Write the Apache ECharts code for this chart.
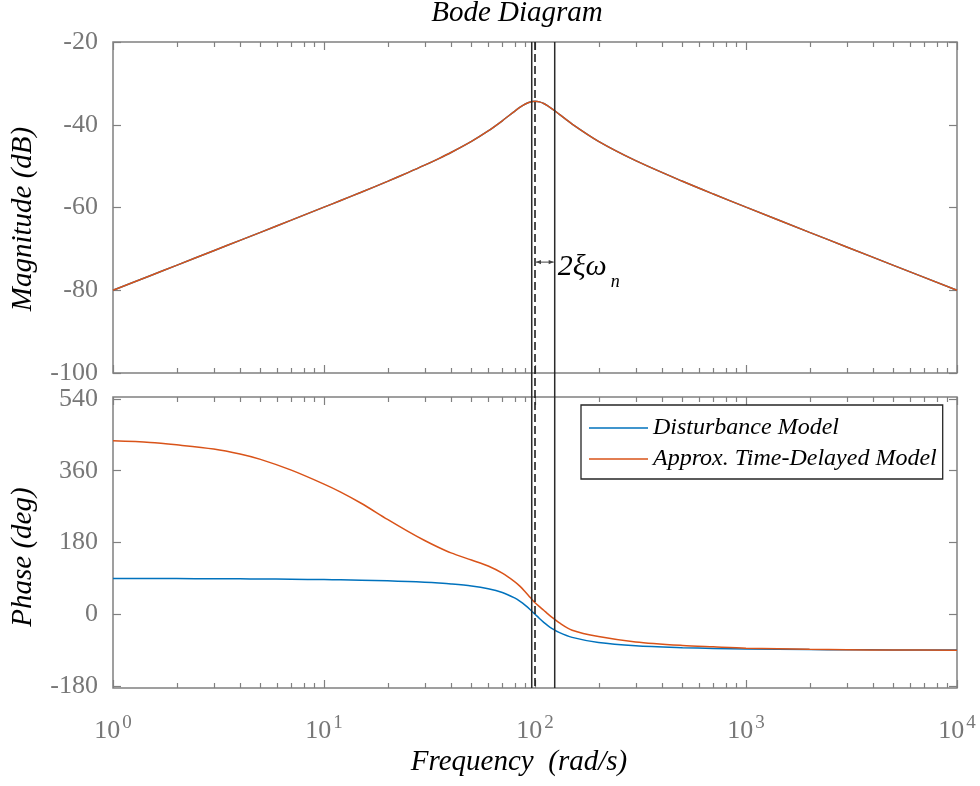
<!DOCTYPE html>
<html>
<head>
<meta charset="utf-8">
<script src="https://cdn.jsdelivr.net/npm/echarts@6/dist/echarts.min.js"></script>
<style>
  html, body { margin: 0; padding: 0; background: #fff; }
  #chart { width: 980px; height: 786px; }
</style>
</head>
<body>
<div id="chart"></div>
<script>
// Frequency samples (rad/s)
const freq = [1, 1.5, 2, 3, 4, 5, 7, 10, 12, 15, 20, 25, 30, 35, 40, 50, 60, 70, 80, 85, 90, 95, 100,
  105, 110, 115, 120, 130, 150, 200, 300, 500, 700, 1000, 2000, 3000, 5000, 10000];

// Magnitude (dB)
const magDisturbance = [-80.0, -76.48, -73.98, -70.45, -67.95, -66.0, -63.06, -59.92, -58.31, -56.31,
  -53.68, -51.56, -49.77, -48.17, -46.7, -44.01, -41.49, -39.04, -36.75, -35.76, -34.99, -34.49, -34.32,
  -34.47, -34.87, -35.43, -36.08, -37.42, -39.85, -44.02, -48.68, -53.67, -56.75,
  -59.92, -66.0, -69.54, -73.98, -80.0];
const magDelayed = [-80.0, -76.48, -73.98, -70.45, -67.95, -66.0, -63.06, -59.92, -58.31, -56.31,
  -53.68, -51.56, -49.77, -48.17, -46.7, -44.01, -41.49, -39.04, -36.75, -35.76, -34.99, -34.49, -34.32,
  -34.47, -34.87, -35.43, -36.08, -37.42, -39.85, -44.02, -48.68, -53.67, -56.75,
  -59.92, -66.0, -69.54, -73.98, -80.0];

// Phase (deg)
const phaseDisturbance = [89.7, 89.55, 89.4, 89.1, 88.8, 88.5, 87.9, 87.0, 86.4, 85.4, 83.8, 82.1,
  80.3, 78.3, 76.1, 70.9, 64.0, 54.5, 40.9, 32.1, 22.1, 11.2, 0, -10.6, -20.2, -28.3, -35.2, -45.6,
  -58.0, -70.9, -79.0, -83.8, -85.7, -87.0, -88.5, -89.0, -89.4, -89.7];
const phaseDelayed = [435, 431, 425, 414.5, 402, 388.5, 361.5, 326.5, 306.5, 278.5, 238, 208, 185,
  167.5, 154, 136, 121, 103, 82, 70, 56, 42, 29, 19, 10, 1, -7, -21, -40, -56, -69.5, -78.3,
  -81.7, -85, -88, -89, -89.7, -90];

// Axis ticks
const magTicks = [-100, -80, -60, -40, -20];
const phaseTicks = [-180, 0, 180, 360, 540];
const decades = [1, 10, 100, 1000, 10000];

// Band markers: lower edge, natural frequency, upper edge (rad/s)
const markerFreqs = [96.5, 100, 124];
const markerDashed = [false, true, false];
// Bandwidth arrow: from, to (rad/s), at magnitude (dB)
const bandArrow = [100, 124, -73.2];

const SERIF = "'Liberation Serif', 'Times New Roman', serif";
const AXIS_GRAY = '#808080';
const LABEL_GRAY = '#777777';
const BLUE = '#0072BD';
const ORANGE = '#D95319';

const TOP_MAG = 42, H_MAG = 331;
const TOP_PH = 397, H_PH = 291;
const LEFT = 113, RIGHT = 23;

const minorTicks = [];
for (let k = 0; k < decades.length - 1; k++) {
  for (let m = 2; m <= 9; m++) minorTicks.push(m * decades[k]);
}

const chart = echarts.init(document.getElementById('chart'), null, { renderer: 'canvas' });

function xAxis(gridIndex, position, labels) {
  return {
    type: 'log', logBase: 10, min: 1, max: 10000, gridIndex, position,
    axisLine: { show: false, onZero: false },
    axisTick: { show: true, inside: true, length: 8, lineStyle: { color: AXIS_GRAY, width: 1.2 } },
    axisLabel: labels ? {
      show: true, margin: 26,
      formatter: v => '{b|10}{s|' + Math.round(Math.log10(v)) + '}',
      rich: {
        b: { fontFamily: SERIF, fontSize: 26, color: LABEL_GRAY, lineHeight: 30, verticalAlign: 'bottom' },
        s: { fontFamily: SERIF, fontSize: 19, color: LABEL_GRAY, lineHeight: 19, verticalAlign: 'top', padding: [0, 0, 0, 2] }
      }
    } : { show: false },
    splitLine: { show: false }
  };
}

function yAxis(gridIndex, position, min, max, ticks, labels) {
  return {
    type: 'value', gridIndex, position, min, max,
    axisLine: { show: false, onZero: false },
    axisTick: { show: true, inside: true, length: 8, customValues: ticks, lineStyle: { color: AXIS_GRAY, width: 1.2 } },
    axisLabel: labels ? {
      show: true, margin: 15, customValues: ticks,
      fontFamily: SERIF, fontSize: 26, color: LABEL_GRAY
    } : { show: false, customValues: ticks },
    splitLine: { show: false }
  };
}

// Short log-decade subdivision ticks along the top and bottom frame of a panel
function minorTickSeries(xi, yi, yRef) {
  return {
    type: 'custom', xAxisIndex: xi, yAxisIndex: yi, silent: true, z: 10, clip: false,
    data: minorTicks.map(v => [v, yRef]),
    encode: { x: 0, y: 1 },
    renderItem: (params, api) => {
      const x = Math.round(api.coord([api.value(0), api.value(1)])[0]) + 0.5;
      const cs = params.coordSys;
      const top = cs.y, bot = cs.y + cs.height;
      const st = { stroke: AXIS_GRAY, lineWidth: 1.2 };
      return {
        type: 'group',
        children: [
          { type: 'line', shape: { x1: x, y1: top, x2: x, y2: top + 5 }, style: st },
          { type: 'line', shape: { x1: x, y1: bot, x2: x, y2: bot - 5 }, style: st }
        ]
      };
    }
  };
}

function curve(name, xi, yi, values, color, z) {
  return {
    name, type: 'line', xAxisIndex: xi, yAxisIndex: yi,
    data: freq.map((f, i) => [f, values[i]]),
    showSymbol: false, symbol: 'none', smooth: 0.3, z,
    lineStyle: { color, width: 1.5 }, itemStyle: { color },
    emphasis: { disabled: true }
  };
}

const textStyle = (font) => ({ font, fill: '#000', align: 'center', verticalAlign: 'middle', textAlign: 'center', textVerticalAlign: 'middle' });

const option = {
  animation: false,
  backgroundColor: '#fff',
  grid: [
    { left: LEFT, right: RIGHT, top: TOP_MAG, height: H_MAG, show: true, borderColor: AXIS_GRAY, borderWidth: 1.5, backgroundColor: 'transparent' },
    { left: LEFT, right: RIGHT, top: TOP_PH, height: H_PH, show: true, borderColor: AXIS_GRAY, borderWidth: 1.5, backgroundColor: 'transparent' }
  ],
  xAxis: [
    xAxis(0, 'bottom', false),
    xAxis(0, 'top', false),
    xAxis(1, 'bottom', true),
    xAxis(1, 'top', false)
  ],
  yAxis: [
    yAxis(0, 'left', -100, -20, magTicks, true),
    yAxis(0, 'right', -100, -20, magTicks, false),
    yAxis(1, 'left', -185, 545, phaseTicks, true),
    yAxis(1, 'right', -185, 545, phaseTicks, false)
  ],
  legend: {
    data: ['Disturbance Model', 'Approx. Time-Delayed Model'],
    orient: 'vertical', left: 581, top: 405,
    icon: 'rect', itemWidth: 59, itemHeight: 1.5, itemGap: 7,
    padding: [11, 6, 8, 8],
    borderColor: '#262626', borderWidth: 1.3, backgroundColor: '#fff',
    selectedMode: false,
    textStyle: { fontFamily: SERIF, fontStyle: 'italic', fontSize: 24, color: '#000' }
  },
  graphic: [
    { type: 'text', x: 517, y: 13, style: Object.assign({ text: 'Bode Diagram' }, textStyle('italic 29px ' + SERIF)) },
    { type: 'text', x: 519, y: 762, style: Object.assign({ text: 'Frequency  (rad/s)' }, textStyle('italic 29px ' + SERIF)) },
    { type: 'text', x: 23, y: 219, rotation: Math.PI / 2, style: Object.assign({ text: 'Magnitude (dB)' }, textStyle('italic 29px ' + SERIF)) },
    { type: 'text', x: 23, y: 557, rotation: Math.PI / 2, style: Object.assign({ text: 'Phase (deg)' }, textStyle('italic 29px ' + SERIF)) }
  ],
  series: [
    minorTickSeries(0, 0, -60),
    minorTickSeries(2, 2, 0),
    curve('Disturbance Model', 0, 0, magDisturbance, BLUE, 3),
    curve('Approx. Time-Delayed Model', 0, 0, magDelayed, ORANGE, 4),
    curve('Disturbance Model', 2, 2, phaseDisturbance, BLUE, 3),
    curve('Approx. Time-Delayed Model', 2, 2, phaseDelayed, ORANGE, 4),
    {
      // vertical band markers spanning both panels
      type: 'custom', xAxisIndex: 2, yAxisIndex: 2, silent: true, z: 5, clip: false,
      data: markerFreqs.map((f, i) => [f, 0, markerDashed[i] ? 1 : 0]),
      encode: { x: 0, y: 1 },
      renderItem: (params, api) => {
        const x = api.coord([api.value(0), api.value(1)])[0];
        const cs = params.coordSys;
        const dashed = api.value(2) === 1;
        return {
          type: 'line',
          shape: { x1: x, y1: TOP_MAG, x2: x, y2: cs.y + cs.height },
          style: { stroke: dashed ? '#111' : '#2b2b2b', lineWidth: 1.5, lineDash: dashed ? [8, 4] : null }
        };
      }
    },
    {
      // bandwidth arrow with its label
      type: 'custom', xAxisIndex: 0, yAxisIndex: 0, silent: true, z: 6, clip: false,
      data: [bandArrow],
      encode: { x: [0, 1], y: 2 },
      renderItem: (params, api) => {
        const p1 = api.coord([api.value(0), api.value(2)]);
        const p2 = api.coord([api.value(1), api.value(2)]);
        const y = p1[1];
        const head = 5, hw = 2.2, col = '#444';
        return {
          type: 'group',
          children: [
            { type: 'line', shape: { x1: p1[0] + 1, y1: y, x2: p2[0] - 1, y2: y }, style: { stroke: col, lineWidth: 1 } },
            { type: 'polygon', shape: { points: [[p1[0] + 1, y], [p1[0] + 1 + head, y - hw], [p1[0] + 1 + head, y + hw]] }, style: { fill: col } },
            { type: 'polygon', shape: { points: [[p2[0] - 1, y], [p2[0] - 1 - head, y - hw], [p2[0] - 1 - head, y + hw]] }, style: { fill: col } },
            { type: 'text', x: p2[0] + 3, y: y + 5, style: { text: '2ξω', font: 'italic 30px ' + SERIF, fill: '#000', align: 'left', verticalAlign: 'middle', textAlign: 'left', textVerticalAlign: 'middle' } },
            { type: 'text', x: p2[0] + 56, y: y + 20, style: { text: 'n', font: 'italic 18px ' + SERIF, fill: '#000', align: 'left', verticalAlign: 'middle', textAlign: 'left', textVerticalAlign: 'middle' } }
          ]
        };
      }
    }
  ]
};

chart.setOption(option);
</script>
</body>
</html>
